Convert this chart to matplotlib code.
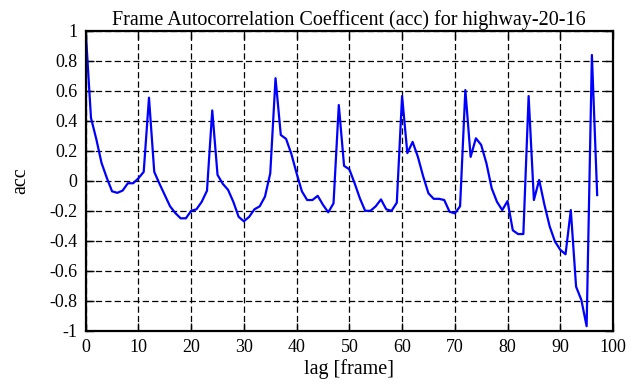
import matplotlib
matplotlib.use("Agg")
import matplotlib.pyplot as plt
import numpy as np

# autocorrelation values, lag 0..97
acc = [1.0, 0.42, 0.28, 0.12, 0.02, -0.07, -0.08, -0.065, -0.016, -0.016,
       0.017, 0.06, 0.555, 0.06, -0.02, -0.095, -0.17, -0.215, -0.25, -0.25,
       -0.2, -0.19, -0.14, -0.066, 0.47, 0.04, -0.02, -0.06, -0.14, -0.24,
       -0.27, -0.24, -0.19, -0.17, -0.105, 0.05, 0.685, 0.306, 0.28, 0.18,
       0.05, -0.07, -0.128, -0.128, -0.1, -0.16, -0.21, -0.15, 0.506, 0.1,
       0.077, -0.016, -0.117, -0.2, -0.2, -0.17, -0.124, -0.19, -0.2, -0.146,
       0.566, 0.185, 0.26, 0.16, 0.03, -0.083, -0.12, -0.12, -0.128, -0.206,
       -0.217, -0.17, 0.606, 0.16, 0.284, 0.24, 0.117, -0.05, -0.14, -0.195,
       -0.135, -0.33, -0.355, -0.355, 0.566, -0.128, 0.006, -0.16, -0.305, -0.405,
       -0.46, -0.49, -0.195, -0.706, -0.795, -0.97, 0.84, -0.095]
lags = np.arange(len(acc))

xticks = list(range(0, 101, 10))
yticks = [1, 0.8, 0.6, 0.4, 0.2, 0, -0.2, -0.4, -0.6, -0.8, -1]
ytick_labels = ["1", "0.8", "0.6", "0.4", "0.2", "0", "-0.2", "-0.4", "-0.6", "-0.8", "-1"]

plt.rcParams['font.family'] = ['Liberation Serif', 'DejaVu Serif']

fig = plt.figure(figsize=(6.41, 3.87), dpi=100)
ax = fig.add_axes([0.1337, 0.1455, 0.8226, 0.7744])

ax.plot(lags, acc, color=(0, 0, 1), linewidth=1.6)

ax.set_xlim(0, 100)
ax.set_ylim(-1, 1)
ax.set_xticks(xticks)
ax.set_yticks(yticks)
ax.set_yticklabels(ytick_labels)
ax.tick_params(direction='in', length=6, width=1, top=True, right=True,
               labelsize=13, pad=6, colors='black')
ax.grid(True, color='black', linestyle=(0, (5, 2.5)), linewidth=0.9)
for s in ax.spines.values():
    s.set_linewidth(1.6)

ax.set_title("Frame Autocorrelation Coefficent (acc) for highway-20-16", fontsize=14.5, pad=4)
ax.set_xlabel("lag [frame]", fontsize=14.5, labelpad=2)
ax.set_ylabel("acc", fontsize=14.5, labelpad=14)

fig.savefig("out.png", dpi=100)
